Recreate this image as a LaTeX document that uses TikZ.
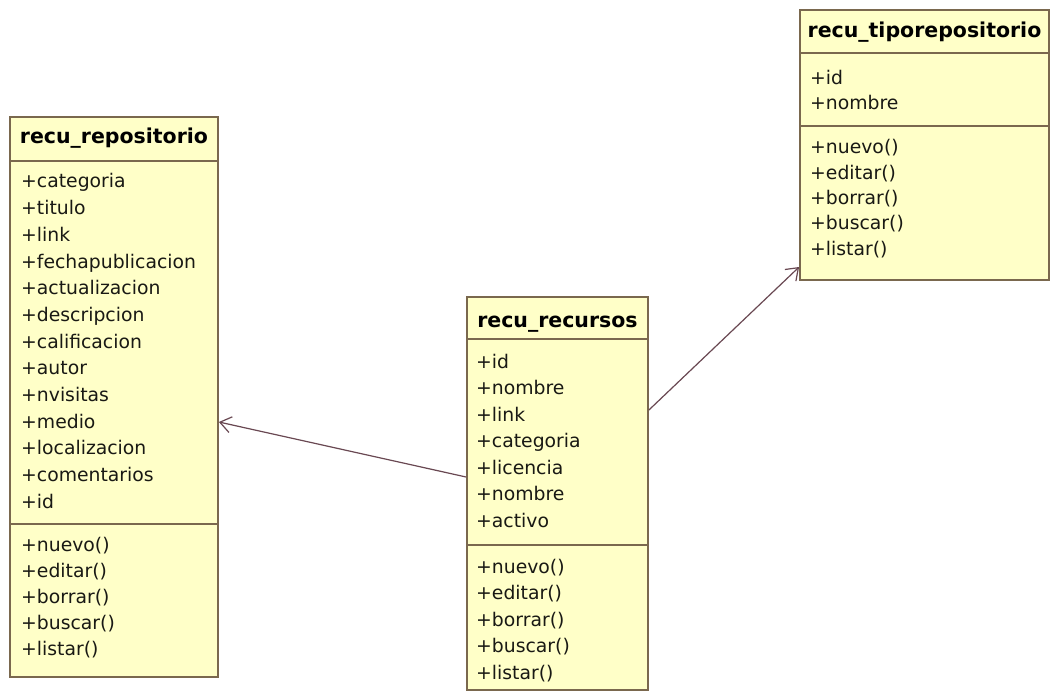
\documentclass[tikz,border=0pt]{standalone}
\usepackage{fontspec}
\setmainfont{DejaVu Sans}
\usetikzlibrary{arrows.meta,fit}
\definecolor{boxfill}{RGB}{255,255,200}
\definecolor{boxline}{RGB}{122,104,78}
\definecolor{txt}{RGB}{25,25,20}
\definecolor{conn}{RGB}{105,72,82}
\tikzset{
  classbox/.style={draw=boxline, fill=boxfill, line width=1.8pt, inner sep=0pt},
  sepline/.style={draw=boxline, line width=1.8pt},
  hdr/.style={anchor=base, inner sep=0pt, text=black, font=\fontsize{20.5}{23}\selectfont\bfseries},
  attr/.style={anchor=base west, inner sep=0pt, text=txt, font=\fontsize{18.8}{21}\selectfont},
  assoc/.style={draw=conn, line width=1.2pt, -{Straight Barb[length=11pt,width=16pt,line width=1.2pt]}},
}
\begin{document}
\begin{tikzpicture}[x=1pt,y=-1pt]
\useasboundingbox (0,0) rectangle (1051,695);
\clip (0,0) rectangle (1051,695);
\fill[white] (0,0) rectangle (1051,695);

% recu_repositorio
\node[classbox, fit={(10,117) (218,677)}] (rep) {};
\draw[sepline] (rep.west |- 0,161) -- (rep.east |- 0,161);
\draw[sepline] (rep.west |- 0,524) -- (rep.east |- 0,524);
\node[hdr] (rep-h) at (114,144) {recu\_repositorio};
\foreach \t [count=\i] in {categoria,titulo,link,fechapublicacion,actualizacion,descripcion,calificacion,autor,nvisitas,medio,localizacion,comentarios,id}
  \node[attr] (rep-a\i) at ({21},{188+(\i-1)*26.67}) {+\t};
\foreach \t [count=\i] in {nuevo,editar,borrar,buscar,listar}
  \node[attr] (rep-m\i) at ({21},{551+(\i-1)*26}) {+\t()};

% recu_recursos
\node[classbox, fit={(467,297) (648,690)}] (rec) {};
\draw[sepline] (rec.west |- 0,339) -- (rec.east |- 0,339);
\draw[sepline] (rec.west |- 0,545) -- (rec.east |- 0,545);
\node[hdr] (rec-h) at (557.5,327) {recu\_recursos};
\foreach \t [count=\i] in {id,nombre,link,categoria,licencia,nombre,activo}
  \node[attr] (rec-a\i) at ({476},{368+(\i-1)*26.5}) {+\t};
\foreach \t [count=\i] in {nuevo,editar,borrar,buscar,listar}
  \node[attr] (rec-m\i) at ({476},{573+(\i-1)*26.5}) {+\t()};

% recu_tiporepositorio
\node[classbox, fit={(800,10) (1049,280)}] (tipo) {};
\draw[sepline] (tipo.west |- 0,53) -- (tipo.east |- 0,53);
\draw[sepline] (tipo.west |- 0,126) -- (tipo.east |- 0,126);
\node[hdr] (tipo-h) at (924.5,38) {recu\_tiporepositorio};
\foreach \t [count=\i] in {id,nombre}
  \node[attr] (tipo-a\i) at ({810},{85+(\i-1)*25}) {+\t};
\foreach \t [count=\i] in {nuevo,editar,borrar,buscar,listar}
  \node[attr] (tipo-m\i) at ({810},{154+(\i-1)*25.3}) {+\t()};

% connectors
\draw[assoc] (rec.west |- 0,477) -- (rep.east |- 0,422);
\draw[assoc] (rec.east |- 0,410) -- (tipo.west |- 0,267);
\end{tikzpicture}
\end{document}
